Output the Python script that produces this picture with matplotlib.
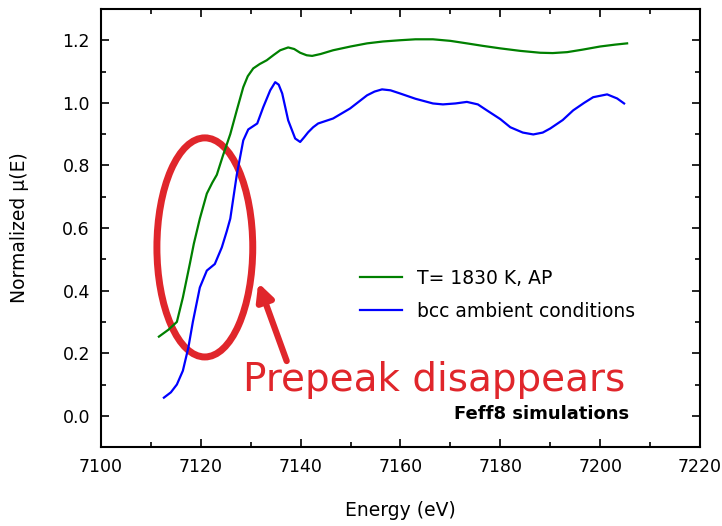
import matplotlib.pyplot as plt
from matplotlib.patches import Ellipse

# T = 1830 K, AP (green)
hot_e = [7111.6, 7113.5, 7115.2, 7116.4, 7117.8, 7118.6, 7119.8, 7121.2, 7122.3, 7123.2, 7124.4,
         7125.9, 7127.2, 7128.5, 7129.4, 7130.5, 7131.8, 7133.2, 7134.6, 7135.9, 7137.5, 7138.7,
         7139.9, 7141.2, 7142.3, 7144.0, 7146.5, 7150.0, 7153.3, 7156.5, 7159.9, 7163.0, 7166.5,
         7170.0, 7173.3, 7176.5, 7180.0, 7184.0, 7188.0, 7190.5, 7193.4, 7196.5, 7200.0, 7203.0,
         7205.4]
hot_mu = [0.253, 0.275, 0.30, 0.378, 0.486, 0.55, 0.63, 0.71, 0.745, 0.77, 0.83,
          0.90, 0.976, 1.05, 1.085, 1.11, 1.124, 1.136, 1.153, 1.168, 1.177, 1.172,
          1.16, 1.152, 1.15, 1.156, 1.168, 1.18, 1.19, 1.196, 1.20, 1.203, 1.203,
          1.198, 1.19, 1.182, 1.174, 1.166, 1.16, 1.159, 1.162, 1.17, 1.18, 1.186,
          1.19]

# bcc ambient conditions (blue)
bcc_e = [7112.6, 7114.0, 7115.2, 7116.4, 7117.5, 7118.4, 7119.8, 7121.2, 7122.8, 7124.2, 7125.2,
         7125.9, 7127.2, 7128.5, 7129.5, 7131.3, 7132.5, 7133.9, 7134.9, 7135.6, 7136.3, 7137.5,
         7138.9, 7139.9, 7140.7, 7141.5, 7142.5, 7143.5, 7146.5, 7149.9, 7153.3, 7154.8, 7156.3,
         7158.0, 7159.9, 7163.0, 7166.5, 7168.5, 7171.0, 7173.3, 7175.5, 7177.3, 7180.0, 7182.0,
         7184.5, 7186.6, 7188.5, 7190.0, 7192.5, 7194.6, 7196.8, 7198.6, 7201.4, 7203.4, 7204.8]
bcc_mu = [0.058, 0.075, 0.10, 0.144, 0.218, 0.30, 0.41, 0.464, 0.485, 0.538, 0.59,
          0.63, 0.77, 0.88, 0.915, 0.934, 0.986, 1.04, 1.066, 1.058, 1.03, 0.944,
          0.886, 0.875, 0.89, 0.906, 0.922, 0.934, 0.95, 0.982, 1.024, 1.036, 1.043,
          1.040, 1.03, 1.013, 0.998, 0.995, 0.998, 1.003, 0.995, 0.976, 0.948, 0.922,
          0.905, 0.899, 0.905, 0.918, 0.945, 0.976, 1.0, 1.018, 1.027, 1.014, 0.998]

fig = plt.figure(figsize=(7.22, 5.26), dpi=100)
ax = fig.add_axes([0.1399, 0.150, 0.8296, 0.833])

ax.plot(hot_e, hot_mu, color='#008000', lw=1.6, label='T= 1830 K, AP')
ax.plot(bcc_e, bcc_mu, color='#0000ff', lw=1.6, label='bcc ambient conditions')

red = '#e0262b'
ax.add_patch(Ellipse((7120.8, 0.538), 19.2, 0.70, fill=False, ec=red, lw=5))
ax.annotate('', xy=(7131.5, 0.425), xytext=(7137.2, 0.175),
            arrowprops=dict(arrowstyle='-|>,head_length=1.0,head_width=0.5',
                            color=red, lw=4.5, shrinkA=0, shrinkB=0))
ax.text(7128.5, 0.08, 'Prepeak disappears', color=red, fontsize=28)
ax.text(7170.7, -0.01, 'Feff8 simulations', fontsize=13, fontweight='bold')

ax.set_xlim(7100, 7220)
ax.set_ylim(-0.1, 1.3)
ax.set_xticks(range(7100, 7221, 20))
ax.set_xticks(range(7100, 7221, 10), minor=True)
ax.set_yticks([0.0, 0.2, 0.4, 0.6, 0.8, 1.0, 1.2])
ax.set_yticks([i / 10 for i in range(-1, 14)], minor=True)
ax.yaxis.set_major_formatter(plt.FormatStrFormatter('%.1f'))
ax.tick_params(which='both', direction='in', top=True, right=True, width=1.2, labelsize=12.5)
ax.tick_params(which='major', length=6, pad=8)
ax.tick_params(which='minor', length=3.5)
for s in ax.spines.values():
    s.set_linewidth(1.5)

ax.set_xlabel('Energy (eV)', fontsize=13.5, labelpad=18)
ax.set_ylabel('Normalized \u03bc(E)', fontsize=13.5, labelpad=24)

ax.legend(loc='upper left', bbox_to_anchor=(0.405, 0.445), frameon=False, fontsize=13.5,
          handlelength=2.2, labelspacing=0.75)

fig.savefig('out.png', dpi=100)
